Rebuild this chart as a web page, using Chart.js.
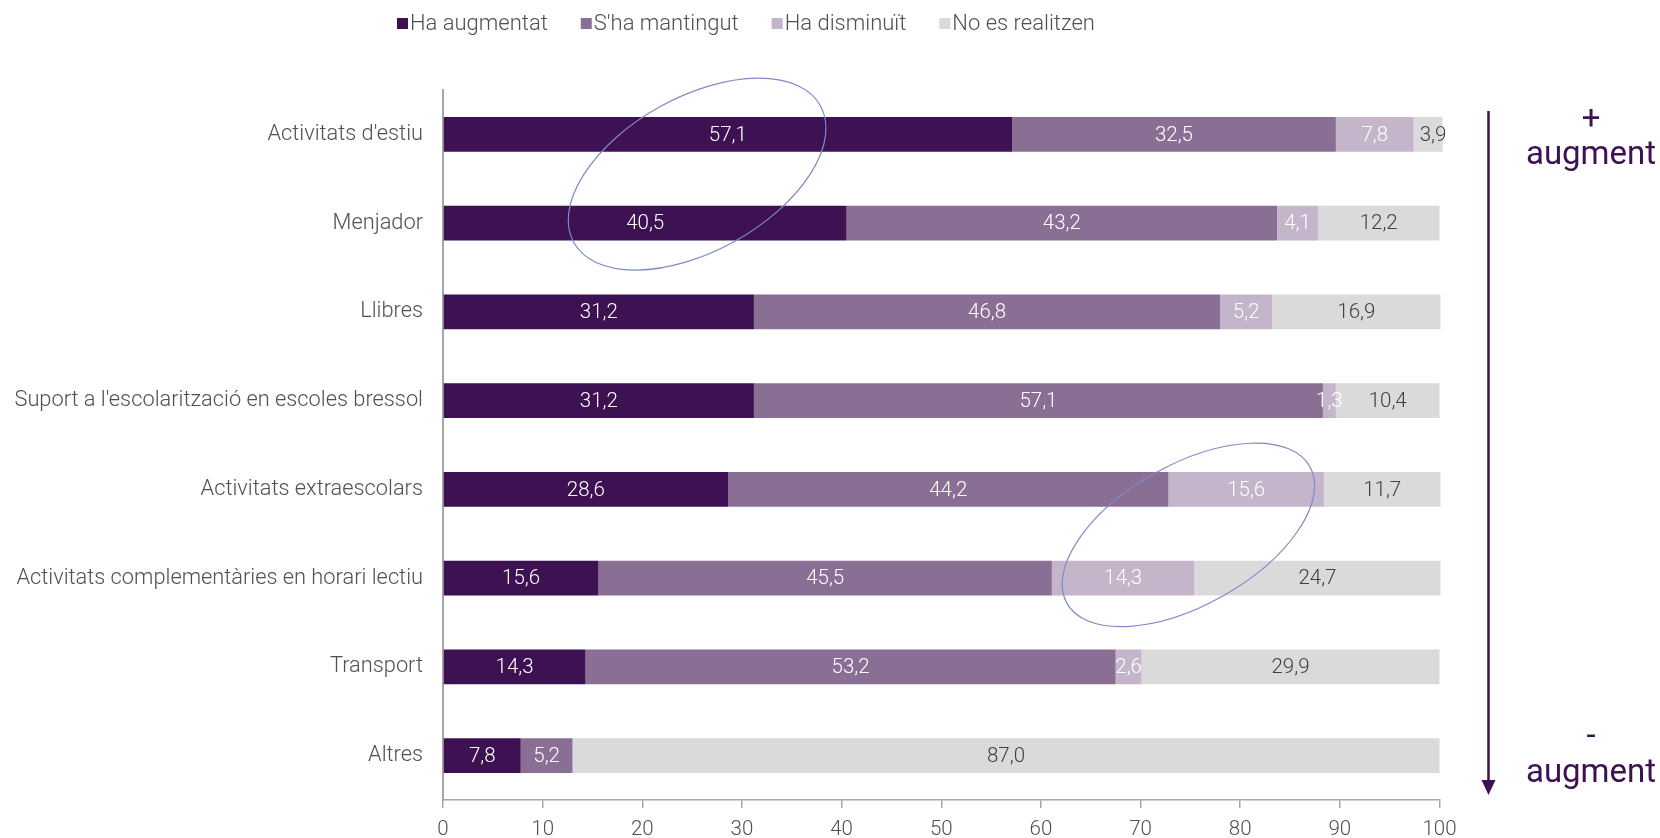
<!DOCTYPE html>
<html>
<head>
<meta charset="utf-8">
<script src="https://cdn.jsdelivr.net/npm/chart.js@4.4.1/dist/chart.umd.min.js"></script>
<style>
html,body{margin:0;padding:0;background:#ffffff;}
#wrap{width:1660px;height:838px;position:relative;}
</style>
</head>
<body>
<div id="wrap"><canvas id="c" width="1660" height="838"></canvas></div>
<script>
// ---------- DATA ----------
const categories = [
  "Activitats d'estiu",
  "Menjador",
  "Llibres",
  "Suport a l'escolarització en escoles bressol",
  "Activitats extraescolars",
  "Activitats complementàries en horari lectiu",
  "Transport",
  "Altres"
];
const seriesNames = ["Ha augmentat", "S'ha mantingut", "Ha disminuït", "No es realitzen"];
const haAugmentat   = [57.1, 40.5, 31.2, 31.2, 28.6, 15.6, 14.3, 7.8];
const shaMantingut  = [32.5, 43.2, 46.8, 57.1, 44.2, 45.5, 53.2, 5.2];
const haDisminuit   = [7.8, 4.1, 5.2, 1.3, 15.6, 14.3, 2.6, 0];
const noEsRealitzen = [3.9, 12.2, 16.9, 10.4, 11.7, 24.7, 29.9, 87.0];
const xTickValues   = [0, 10, 20, 30, 40, 50, 60, 70, 80, 90, 100];
const sideLabelTop    = ["+", "augment"];
const sideLabelBottom = ["-", "augment"];

// ---------- STYLE ----------
const FONT = "Roboto, 'Liberation Sans', Arial, sans-serif";
const colors = ["#3D1152", "#8A6F95", "#C4B5CB", "#DADADA"];
const labelColors = ["#FFFFFF", "#FFFFFF", "#FFFFFF", "#404040"];
const axisGray = "#A6A6A6";
const textGray = "#505050";
const accent = "#3D1152";
const ellipseColor = "#7F89C9";

const seriesValues = [haAugmentat, shaMantingut, haDisminuit, noEsRealitzen];

// ---------- PLUGINS ----------
const valueLabels = {
  id: 'valueLabels',
  afterDatasetsDraw(chart) {
    const ctx = chart.ctx;
    ctx.save();
    ctx.font = "300 20.5px " + FONT;
    ctx.textAlign = 'center';
    ctx.textBaseline = 'middle';
    chart.data.datasets.forEach((ds, i) => {
      const meta = chart.getDatasetMeta(i);
      meta.data.forEach((bar, j) => {
        const v = ds.data[j];
        if (!v) return;
        ctx.fillStyle = labelColors[i];
        ctx.fillText(v.toFixed(1).replace('.', ','), (bar.x + bar.base) / 2, bar.y + 1);
      });
    });
    ctx.restore();
  }
};

const ellipses = {
  id: 'ellipses',
  afterDatasetsDraw(chart) {
    const ctx = chart.ctx;
    const xs = chart.scales.x, ys = chart.scales.y;
    const list = [
      {x: 25.5, y: 0.448, a: 141, b: 77, rot: -29},
      {x: 74.8, y: 4.513, a: 139.4, b: 70.2, rot: -29.4}
    ];
    ctx.save();
    ctx.strokeStyle = ellipseColor;
    ctx.lineWidth = 1.2;
    list.forEach(e => {
      ctx.beginPath();
      ctx.ellipse(xs.getPixelForValue(e.x), ys.getPixelForValue(e.y), e.a, e.b, e.rot * Math.PI / 180, 0, Math.PI * 2);
      ctx.stroke();
    });
    ctx.restore();
  }
};

const customLegend = {
  id: 'customLegend',
  afterDraw(chart) {
    const ctx = chart.ctx;
    ctx.save();
    ctx.font = "300 22px " + FONT;
    ctx.textBaseline = 'alphabetic';
    ctx.textAlign = 'left';
    let x = 397;
    chart.data.datasets.forEach((ds, i) => {
      ctx.fillStyle = ds.backgroundColor;
      ctx.fillRect(x, 18, 11, 11);
      ctx.fillStyle = textGray;
      const tx = x + 13;
      ctx.fillText(ds.label, tx, 30);
      x = tx + ctx.measureText(ds.label).width + 33;
    });
    ctx.restore();
  }
};

const sideArrow = {
  id: 'sideArrow',
  afterDraw(chart) {
    const ctx = chart.ctx;
    ctx.save();
    ctx.strokeStyle = accent;
    ctx.fillStyle = accent;
    ctx.lineWidth = 2.5;
    const ax = 1488.5;
    ctx.beginPath();
    ctx.moveTo(ax, 111);
    ctx.lineTo(ax, 784);
    ctx.stroke();
    ctx.beginPath();
    ctx.moveTo(ax - 7, 780);
    ctx.lineTo(ax + 7, 780);
    ctx.lineTo(ax, 795);
    ctx.closePath();
    ctx.fill();
    ctx.textAlign = 'center';
    ctx.textBaseline = 'alphabetic';
    ctx.font = "400 33px " + FONT;
    ctx.fillText(sideLabelTop[0], 1591, 129);
    ctx.fillText(sideLabelTop[1], 1591, 164);
    ctx.fillText(sideLabelBottom[0], 1591, 746);
    ctx.fillText(sideLabelBottom[1], 1591, 782);
    ctx.restore();
  }
};

// ---------- CHART ----------
const datasets = seriesNames.map((name, i) => ({
  label: name,
  data: seriesValues[i],
  backgroundColor: colors[i],
  borderWidth: 0,
  barPercentage: 0.394,
  categoryPercentage: 1.0,
  clip: { left: 0, top: 0, right: 3, bottom: 0 }
}));

new Chart(document.getElementById('c'), {
  type: 'bar',
  data: { labels: categories, datasets: datasets },
  options: {
    indexAxis: 'y',
    responsive: false,
    animation: false,
    devicePixelRatio: 1,
    events: [],
    layout: { padding: { left: 0, right: 220.5, top: 90, bottom: 0 } },
    plugins: {
      legend: { display: false },
      tooltip: { enabled: false },
      title: { display: false }
    },
    scales: {
      x: {
        type: 'linear',
        stacked: true,
        min: 0,
        max: 100,
        afterBuildTicks(scale) { scale.ticks = xTickValues.map(v => ({value: v})); },
        afterFit(scale) { scale.height = 38; },
        ticks: {
          font: { family: FONT, size: 20.5, weight: '300' },
          color: textGray,
          padding: 10,
          maxRotation: 0,
          autoSkip: false
        },
        grid: {
          display: true,
          drawOnChartArea: false,
          drawTicks: true,
          tickLength: 8,
          color: axisGray,
          lineWidth: 1.5
        },
        border: { display: true, color: axisGray, width: 1.5 }
      },
      y: {
        type: 'category',
        stacked: true,
        afterFit(scale) { scale.width = 443; },
        ticks: {
          font: { family: FONT, size: 21.8, weight: '300' },
          color: textGray,
          padding: 20,
          autoSkip: false
        },
        grid: { display: false, drawTicks: false, tickLength: 0 },
        border: { display: true, color: axisGray, width: 2 }
      }
    }
  },
  plugins: [valueLabels, ellipses, customLegend, sideArrow]
});
</script>
</body>
</html>
